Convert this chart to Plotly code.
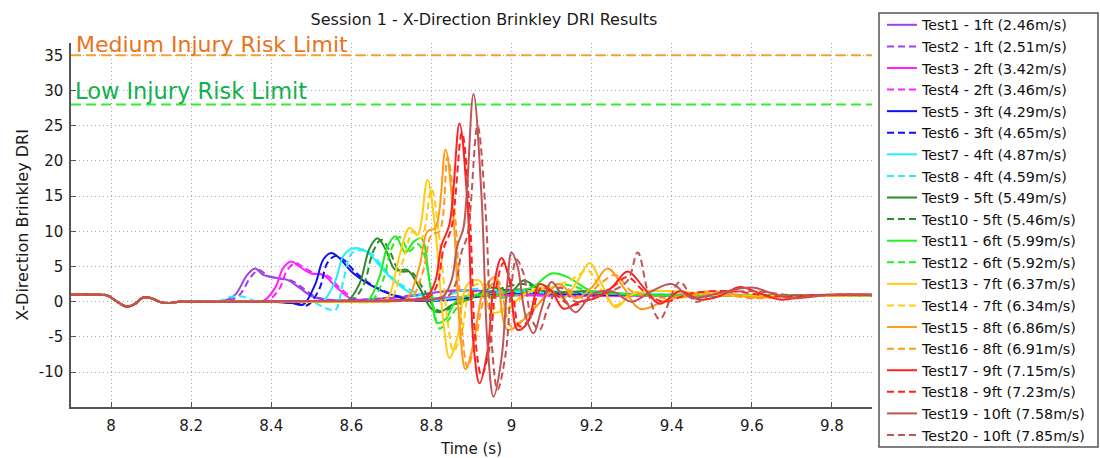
import plotly.graph_objects as go

# ---------------- data ----------------
x_ticks = [8.0, 8.2, 8.4, 8.6, 8.8, 9.0, 9.2, 9.4, 9.6, 9.8]
x_tick_labels = ["8", "8.2", "8.4", "8.6", "8.8", "9", "9.2", "9.4", "9.6", "9.8"]
y_ticks = [-10, -5, 0, 5, 10, 15, 20, 25, 30, 35]
y_tick_labels = ["-10", "-5", "0", "5", "10", "15", "20", "25", "30", "35"]

medium_limit = 35
low_limit = 28

names = [
    "Test1 - 1ft (2.46m/s)", "Test2 - 1ft (2.51m/s)",
    "Test3 - 2ft (3.42m/s)", "Test4 - 2ft (3.46m/s)",
    "Test5 - 3ft (4.29m/s)", "Test6 - 3ft (4.65m/s)",
    "Test7 - 4ft (4.87m/s)", "Test8 - 4ft (4.59m/s)",
    "Test9 - 5ft (5.49m/s)", "Test10 - 5ft (5.46m/s)",
    "Test11 - 6ft (5.99m/s)", "Test12 - 6ft (5.92m/s)",
    "Test13 - 7ft (6.37m/s)", "Test14 - 7ft (6.34m/s)",
    "Test15 - 8ft (6.86m/s)", "Test16 - 8ft (6.91m/s)",
    "Test17 - 9ft (7.15m/s)", "Test18 - 9ft (7.23m/s)",
    "Test19 - 10ft (7.58m/s)", "Test20 - 10ft (7.85m/s)",
]

# common pre-impact segment
t_pre = [7.90, 7.96, 7.99, 8.015, 8.04, 8.06, 8.08, 8.10, 8.12, 8.14, 8.17]
v_pre = [1.0, 1.0, 0.9, 0.0, -0.7, -0.3, 0.6, 0.5, 0.0, -0.2, 0.0]

t01 = [8.20, 8.25, 8.28, 8.31, 8.34, 8.36, 8.38, 8.41, 8.44, 8.47, 8.50, 8.53, 8.60, 8.75, 8.85, 8.95, 9.10, 9.30, 9.50, 9.70, 9.90]
v01 = [0.0, 0.0, 0.1, 1.0, 3.8, 4.7, 3.8, 3.4, 3.1, 2.0, 0.8, 0.3, 0.2, 0.8, 1.6, 1.5, 1.2, 1.0, 1.0, 0.9, 0.9]
t02 = [8.20, 8.26, 8.29, 8.32, 8.35, 8.37, 8.39, 8.42, 8.45, 8.48, 8.51, 8.54, 8.60, 8.75, 8.85, 8.95, 9.10, 9.30, 9.50, 9.70, 9.90]
v02 = [0.0, 0.0, 0.1, 0.9, 3.6, 4.5, 3.7, 3.3, 3.0, 1.9, 0.7, 0.3, 0.2, 0.9, 1.5, 1.4, 1.1, 1.0, 1.0, 0.9, 0.9]
t03 = [8.20, 8.30, 8.35, 8.38, 8.41, 8.43, 8.45, 8.47, 8.50, 8.53, 8.56, 8.60, 8.65, 8.80, 9.00, 9.20, 9.50, 9.90]
v03 = [0.0, 0.0, 0.0, 0.1, 2.0, 4.8, 5.7, 5.0, 4.0, 3.8, 2.2, 0.4, 0.1, 0.5, 0.9, 0.8, 0.9, 0.9]
t04 = [8.20, 8.30, 8.36, 8.39, 8.42, 8.44, 8.46, 8.48, 8.51, 8.54, 8.57, 8.61, 8.66, 8.80, 9.00, 9.20, 9.50, 9.90]
v04 = [0.0, 0.0, 0.0, 0.1, 1.8, 4.5, 5.5, 4.9, 4.0, 3.7, 2.0, 0.4, 0.1, 0.5, 0.9, 0.8, 0.9, 0.9]
t05 = [8.20, 8.30, 8.40, 8.45, 8.48, 8.51, 8.53, 8.55, 8.57, 8.60, 8.63, 8.66, 8.70, 8.75, 8.85, 9.00, 9.20, 9.50, 9.90]
v05 = [0.0, 0.0, 0.0, -0.2, -0.4, 2.5, 6.0, 6.9, 6.2, 4.3, 3.0, 2.0, 1.0, 0.2, 0.3, 1.2, 1.0, 0.9, 0.9]
t06 = [8.20, 8.30, 8.41, 8.46, 8.49, 8.52, 8.54, 8.56, 8.58, 8.61, 8.64, 8.67, 8.71, 8.76, 8.85, 9.00, 9.20, 9.50, 9.90]
v06 = [0.0, 0.0, 0.0, -0.2, -0.5, 1.8, 5.5, 6.5, 6.0, 4.2, 2.8, 1.8, 0.9, 0.2, 0.4, 1.7, 1.1, 0.9, 0.9]
t07 = [8.20, 8.35, 8.45, 8.50, 8.53, 8.56, 8.58, 8.60, 8.63, 8.65, 8.68, 8.71, 8.74, 8.78, 8.85, 9.00, 9.20, 9.50, 9.90]
v07 = [0.0, 0.0, 0.0, 0.0, 0.1, 3.0, 6.5, 7.5, 7.4, 6.5, 4.5, 2.8, 1.5, 0.3, 0.5, 1.5, 1.3, 0.9, 0.9]
t08 = [8.20, 8.24, 8.27, 8.30, 8.33, 8.36, 8.40, 8.45, 8.50, 8.54, 8.56, 8.58, 8.60, 8.62, 8.65, 8.68, 8.71, 8.75, 8.80, 8.90, 9.00, 9.20, 9.50, 9.90]
v08 = [0.0, 0.0, 0.1, 0.7, 0.7, 0.1, 0.0, 0.0, 0.0, -1.0, -1.2, 3.0, 6.8, 7.3, 6.8, 4.8, 3.0, 1.6, 0.5, 1.8, 1.4, 1.2, 0.9, 0.9]
t09 = [8.20, 8.35, 8.50, 8.56, 8.59, 8.62, 8.645, 8.665, 8.685, 8.71, 8.74, 8.77, 8.80, 8.82, 8.85, 8.90, 8.95, 9.00, 9.03, 9.08, 9.20, 9.30, 9.50, 9.90]
v09 = [0.0, 0.0, 0.0, 0.0, 0.1, 2.5, 7.5, 9.0, 7.5, 4.5, 4.5, 2.0, -1.0, -1.5, -0.5, 0.5, 2.0, 1.5, 3.0, 1.5, 1.5, 1.0, 0.9, 0.9]
t10 = [8.20, 8.35, 8.50, 8.57, 8.60, 8.63, 8.655, 8.675, 8.695, 8.72, 8.75, 8.78, 8.81, 8.83, 8.86, 8.92, 8.97, 9.03, 9.10, 9.20, 9.30, 9.50, 9.90]
v10 = [0.0, 0.0, 0.0, 0.0, 0.1, 2.3, 7.2, 8.8, 7.3, 4.4, 4.2, 1.8, -1.0, -1.4, -0.4, 0.8, 1.8, 2.5, 1.3, 1.4, 1.0, 0.9, 0.9]
t11 = [8.20, 8.35, 8.50, 8.60, 8.64, 8.67, 8.69, 8.71, 8.735, 8.755, 8.775, 8.795, 8.815, 8.835, 8.86, 8.90, 8.95, 9.00, 9.05, 9.10, 9.14, 9.20, 9.30, 9.50, 9.90]
v11 = [0.0, 0.0, 0.0, 0.0, 0.1, 3.5, 7.8, 9.3, 7.0, 8.5, 9.0, 3.0, -3.0, -2.5, 0.0, 1.0, 0.8, 1.5, 2.0, 4.0, 3.5, 1.5, 1.0, 0.9, 0.9]
t12 = [8.20, 8.35, 8.50, 8.61, 8.65, 8.68, 8.70, 8.72, 8.745, 8.765, 8.78, 8.80, 8.82, 8.84, 8.87, 8.92, 8.97, 9.05, 9.12, 9.20, 9.30, 9.50, 9.90]
v12 = [0.0, 0.0, 0.0, 0.0, 0.1, 3.2, 7.5, 9.2, 7.2, 8.2, 7.0, 1.5, -3.8, -2.8, -0.5, 1.0, 0.5, 1.5, 2.5, 1.5, 1.0, 0.9, 0.9]
t13 = [8.20, 8.35, 8.50, 8.62, 8.66, 8.69, 8.72, 8.745, 8.765, 8.79, 8.81, 8.83, 8.845, 8.865, 8.89, 8.92, 8.95, 8.99, 9.03, 9.08, 9.13, 9.165, 9.195, 9.225, 9.26, 9.30, 9.40, 9.50, 9.70, 9.90]
v13 = [0.0, 0.0, 0.0, 0.0, 0.1, 0.5, 6.5, 10.5, 9.5, 17.3, 10.0, -3.0, -8.0, -5.0, 2.5, 3.0, -1.5, -1.0, 1.0, 2.0, 0.5, 3.0, 5.5, 2.5, -0.8, 1.0, 1.5, 1.0, 0.8, 0.9]
t14 = [8.20, 8.35, 8.50, 8.63, 8.67, 8.70, 8.73, 8.755, 8.775, 8.80, 8.82, 8.84, 8.855, 8.875, 8.90, 8.93, 8.96, 9.00, 9.05, 9.10, 9.16, 9.19, 9.22, 9.26, 9.30, 9.40, 9.50, 9.70, 9.90]
v14 = [0.0, 0.0, 0.0, 0.0, 0.1, 0.5, 6.0, 10.0, 9.0, 16.0, 9.0, -2.5, -7.0, -4.5, 2.0, 2.5, -1.0, -0.5, 1.5, 2.0, 3.5, 4.5, 2.0, -0.5, 1.2, 1.5, 1.0, 0.8, 0.9]
t15 = [8.20, 8.35, 8.50, 8.65, 8.71, 8.74, 8.77, 8.79, 8.81, 8.835, 8.855, 8.87, 8.885, 8.905, 8.93, 8.96, 8.99, 9.04, 9.08, 9.12, 9.16, 9.20, 9.24, 9.28, 9.32, 9.40, 9.50, 9.60, 9.70, 9.90]
v15 = [0.0, 0.0, 0.0, 0.0, 0.1, 0.5, 5.0, 10.0, 10.5, 21.6, 12.0, -3.0, -9.6, -6.0, 1.5, 3.5, -4.0, -2.0, 0.5, 2.5, 0.5, 2.0, 4.7, 2.0, -1.0, 0.5, 1.5, 0.6, 0.8, 1.0]
t16 = [8.20, 8.35, 8.50, 8.66, 8.72, 8.75, 8.78, 8.80, 8.82, 8.84, 8.86, 8.875, 8.89, 8.91, 8.935, 8.965, 9.00, 9.045, 9.09, 9.13, 9.18, 9.22, 9.26, 9.30, 9.40, 9.50, 9.60, 9.70, 9.90]
v16 = [0.0, 0.0, 0.0, 0.0, 0.1, 0.5, 4.5, 9.5, 10.0, 20.5, 11.5, -3.0, -9.3, -5.5, 1.0, 3.0, -3.5, -1.5, 1.0, 2.0, 0.5, 2.5, 3.8, 1.5, 0.5, 1.2, 0.5, 0.8, 1.0]
t17 = [8.20, 8.35, 8.50, 8.65, 8.73, 8.765, 8.79, 8.81, 8.825, 8.845, 8.87, 8.89, 8.905, 8.92, 8.94, 8.955, 8.975, 8.995, 9.015, 9.04, 9.07, 9.10, 9.13, 9.17, 9.21, 9.25, 9.29, 9.33, 9.37, 9.42, 9.47, 9.52, 9.57, 9.62, 9.67, 9.75, 9.90]
v17 = [0.0, 0.0, 0.1, 0.1, 0.2, 0.3, 0.8, 3.0, 8.0, 11.0, 25.3, 14.0, -6.0, -11.6, -7.0, 2.0, 6.2, 3.0, -4.0, -3.0, 2.5, 1.5, -1.0, 0.0, 0.5, 2.0, 4.3, 2.0, -0.3, 1.5, 0.3, 0.8, 2.1, 1.2, 0.3, 0.9, 1.0]
t18 = [8.20, 8.35, 8.50, 8.65, 8.735, 8.77, 8.795, 8.815, 8.83, 8.85, 8.876, 8.895, 8.91, 8.925, 8.945, 8.96, 8.98, 9.00, 9.02, 9.045, 9.075, 9.11, 9.15, 9.20, 9.25, 9.29, 9.33, 9.38, 9.45, 9.55, 9.65, 9.75, 9.90]
v18 = [0.0, 0.0, 0.1, 0.1, 0.2, 0.3, 0.7, 2.5, 7.5, 10.5, 24.0, 13.0, -5.5, -10.5, -6.5, 1.5, 5.5, 2.5, -3.5, -2.5, 2.0, 1.0, -0.5, 0.5, 2.0, 3.5, 1.5, 0.0, 1.2, 1.5, 0.8, 0.9, 1.0]
t19 = [8.20, 8.35, 8.50, 8.65, 8.75, 8.80, 8.83, 8.85, 8.865, 8.88, 8.905, 8.925, 8.94, 8.955, 8.975, 8.99, 9.00, 9.015, 9.035, 9.055, 9.075, 9.10, 9.13, 9.16, 9.20, 9.25, 9.30, 9.35, 9.40, 9.45, 9.50, 9.60, 9.65, 9.70, 9.80, 9.90]
v19 = [0.0, 0.0, 0.1, 0.1, 0.2, 0.3, 0.8, 3.0, 8.0, 10.5, 29.5, 15.0, -6.0, -13.5, -8.0, 3.0, 7.0, 5.0, -2.0, -4.5, -1.0, 2.8, 0.5, -1.5, 1.0, 1.5, 0.0, 1.5, 2.5, 0.5, 1.0, 2.0, 1.2, 0.5, 1.0, 1.0]
t20 = [8.20, 8.35, 8.50, 8.65, 8.76, 8.81, 8.84, 8.86, 8.875, 8.89, 8.915, 8.935, 8.95, 8.965, 8.985, 9.00, 9.012, 9.03, 9.05, 9.07, 9.09, 9.12, 9.16, 9.20, 9.25, 9.29, 9.315, 9.34, 9.37, 9.42, 9.46, 9.50, 9.60, 9.70, 9.80, 9.90]
v20 = [0.0, 0.0, 0.1, 0.1, 0.2, 0.3, 0.7, 2.5, 7.0, 9.5, 25.0, 13.0, -5.5, -12.5, -7.5, 2.5, 6.0, 4.0, -2.5, -4.0, -1.0, 2.0, 0.0, 0.5, 1.5, 3.0, 7.0, 1.5, -2.5, 2.8, 0.0, 1.0, 1.5, 0.9, 1.0, 1.0]

times = [t01, t02, t03, t04, t05, t06, t07, t08, t09, t10,
         t11, t12, t13, t14, t15, t16, t17, t18, t19, t20]
values = [v01, v02, v03, v04, v05, v06, v07, v08, v09, v10,
          v11, v12, v13, v14, v15, v16, v17, v18, v19, v20]

# ---------------- style ----------------
pair_colors = ["#A040E8", "#FF22FF", "#1010F0", "#22EEFF", "#2A8C2A",
               "#22EE22", "#FFCC11", "#FF9A1A", "#FF2020", "#C05555"]
FONT = "DejaVu Sans"

fig = go.Figure()
for i in range(20):
    fig.add_trace(go.Scatter(
        x=t_pre + times[i], y=v_pre + values[i], mode="lines", name=names[i],
        line=dict(color=pair_colors[i // 2], width=2,
                  dash="solid" if i % 2 == 0 else "7px,4px",
                  shape="spline", smoothing=1.0),
    ))

L, R, T, B = 71, 228, 43, 51
W, H = 1100, 458
pw, ph = W - L - R, H - T - B

fig.add_shape(type="line", xref="paper", yref="y", x0=0, x1=1, y0=medium_limit, y1=medium_limit,
              line=dict(color="#F5A030", width=2, dash="10px,5px"))
fig.add_shape(type="line", xref="paper", yref="y", x0=0, x1=1, y0=low_limit, y1=low_limit,
              line=dict(color="#33EE33", width=2, dash="10px,5px"))
fig.add_annotation(xref="paper", yref="y", x=0, y=medium_limit, xanchor="left", yanchor="bottom",
                   text="Medium Injury Risk Limit", showarrow=False, yshift=-4, xshift=3,
                   font=dict(family=FONT, size=22, color="#E8731E"))
fig.add_annotation(xref="paper", yref="y", x=0, y=low_limit, xanchor="left", yanchor="bottom",
                   text="Low Injury Risk Limit", showarrow=False, yshift=-1, xshift=2,
                   font=dict(family=FONT, size=22.5, color="#10B050"))

# legend frame
fig.add_shape(type="rect", xref="paper", yref="paper",
              x0=(879 - L) / pw, x1=(1098 - L) / pw,
              y0=(H - B - 447) / ph, y1=(H - B - 13) / ph,
              line=dict(color="#555555", width=1.5), fillcolor="rgba(0,0,0,0)")

fig.update_layout(
    width=W, height=H,
    margin=dict(l=L, r=R, t=T, b=B, autoexpand=False),
    paper_bgcolor="white", plot_bgcolor="white",
    font=dict(family=FONT, size=15, color="#1a1a1a"),
    title=dict(text="Session 1 - X-Direction Brinkley DRI Results", x=484 / W, xref="container",
               xanchor="center", y=1 - 19 / H, yref="container", yanchor="middle",
               font=dict(family=FONT, size=16, color="#1a1a1a")),
    legend=dict(x=882 / W, y=1 - 9 / H, xanchor="left", yanchor="top",
                xref="container", yref="container", maxheight=450,
                bgcolor="rgba(0,0,0,0)", borderwidth=0,
                font=dict(family=FONT, size=14.3, color="#111111"), tracegroupgap=0),
    showlegend=True,
)
fig.update_xaxes(range=[7.9, 9.9], tickvals=x_ticks, ticktext=x_tick_labels,
                 showline=True, linecolor="#555555", linewidth=1.5,
                 ticks="inside", ticklen=5, tickcolor="#555555",
                 showgrid=True, gridcolor="#AAAAAA", griddash="1px,3px", gridwidth=1,
                 zeroline=False, ticklabelstandoff=4, automargin=False,
                 title=dict(text="Time (s)", standoff=12, font=dict(family=FONT, size=15)))
fig.update_yaxes(range=[-14.96, 36.75], tickvals=y_ticks, ticktext=y_tick_labels,
                 showline=True, linecolor="#555555", linewidth=1.5,
                 ticks="inside", ticklen=5, tickcolor="#555555",
                 showgrid=True, gridcolor="#AAAAAA", griddash="1px,3px", gridwidth=1,
                 zeroline=False, ticklabelstandoff=3, automargin=False,
                 title=dict(text="X-Direction Brinkley DRI", standoff=6, font=dict(family=FONT, size=16)))

fig.write_html("out.html", config={"displayModeBar": False},
               post_script="document.body.style.margin='0px';")
